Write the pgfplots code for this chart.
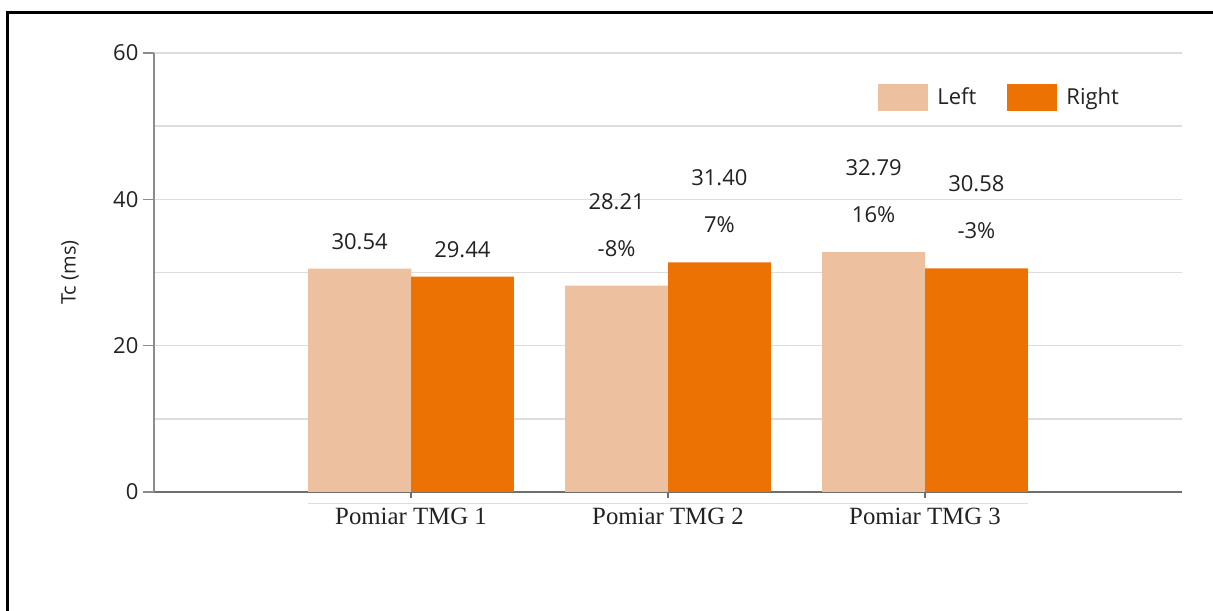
\documentclass[border=0pt]{standalone}
\usepackage{fontspec}
\setmainfont{Open Sans}
\newfontfamily\tmgfont{Liberation Serif}
\usepackage{pgfplots}
\usepackage{pgfplotstable}
\pgfplotsset{compat=1.18}

\definecolor{cLeft}{HTML}{EDC19F}
\definecolor{cRight}{HTML}{EC7204}
\definecolor{txt}{HTML}{222222}
\definecolor{gridc}{HTML}{DDDDDD}
\definecolor{yaxc}{HTML}{8C8C8C}
\definecolor{xaxc}{HTML}{6E6E6E}

% Tc (ms) per measurement, label offsets in pt
\pgfplotstableread{
x left  right voff lpct rpct
1 30.54 29.44 13.4 {}   {}
2 28.21 31.40 42.2 -8\% 7\%
3 32.79 30.58 42.2 16\% -3\%
}\tcdata

\begin{document}
\begin{tikzpicture}
\path[use as bounding box] (0,0) rectangle (606.5pt,305pt);
\draw[line width=1.35pt] (3.75pt,-5pt) -- (3.75pt,298.75pt) -- (615pt,298.75pt);
\begin{axis}[
    at={(77pt,59pt)}, anchor=south west,
    scale only axis, width=514pt, height=219.5pt,
    xmin=0, xmax=4, ymin=0, ymax=60,
    clip=false,
    axis x line*=bottom, axis y line*=left,
    x axis line style={draw=xaxc, line width=0.8pt},
    y axis line style={draw=yaxc, line width=0.8pt},
    tick align=outside,
    xtick={1,2,3},
    xticklabels={Pomiar TMG 1, Pomiar TMG 2, Pomiar TMG 3},
    xtick style={draw=xaxc, line width=0.6pt, /pgfplots/major tick length=3pt},
    xticklabel style={font=\tmgfont\fontsize{12.4}{14}\selectfont, text=txt},
    ytick={0,20,40,60},
    minor ytick={10,30,50},
    ytick style={draw=yaxc, line width=0.8pt, /pgfplots/major tick length=5.5pt, /pgfplots/minor tick length=0pt},
    yticklabel style={font=\fontsize{11}{13}\selectfont, text=txt},
    /pgf/number format/assume math mode=true,
    ymajorgrids, yminorgrids,
    major grid style={draw=gridc, line width=0.8pt},
    minor grid style={draw=gridc, line width=0.8pt},
    ylabel={Tc (ms)},
    every axis y label/.style={at={(axis description cs:0,0.5)}, xshift=-42pt,
        rotate=90, anchor=center, font=\fontsize{10}{12}\selectfont, text=txt},
    legend style={draw=none, fill=none, inner sep=0pt,
        at={(0.7043,0.9317)}, anchor=north west,
        font=\fontsize{11}{13}\selectfont, text=txt,
        /tikz/every odd column/.append style={column sep=2.5pt},
        /tikz/every even column/.append style={column sep=13.5pt}},
    legend columns=2,
    legend cell align=left,
]
\addplot[ybar, bar width=0.4, bar shift=-0.2, fill=cLeft, draw=none,
    legend image code/.code={\fill[cLeft] (0pt,-6.75pt) rectangle (25pt,6.75pt);},
    point meta=explicit symbolic,
    visualization depends on={\thisrow{voff} \as \voff},
    nodes near coords,
    every node near coord/.append style={anchor=center, xshift=-25.7pt, yshift=\voff pt,
        text=txt, font=\fontsize{11}{13}\selectfont}]
    table[x=x, y=left, meta=left]{\tcdata};
\addlegendentry{Left}
\addplot[ybar, bar width=0.4, bar shift=0.2, fill=cRight, draw=none,
    legend image code/.code={\fill[cRight] (0pt,-6.75pt) rectangle (25pt,6.75pt);},
    point meta=explicit symbolic,
    visualization depends on={\thisrow{voff} \as \voff},
    nodes near coords,
    every node near coord/.append style={anchor=center, xshift=25.7pt, yshift=\voff pt,
        text=txt, font=\fontsize{11}{13}\selectfont}]
    table[x=x, y=right, meta=right]{\tcdata};
\addlegendentry{Right}
% percentage change labels
\addplot[ybar, bar width=0.4, bar shift=-0.2, draw=none, fill=none, forget plot,
    point meta=explicit symbolic,
    nodes near coords,
    every node near coord/.append style={anchor=center, xshift=-25.7pt, yshift=18.7pt,
        text=txt, font=\fontsize{11}{13}\selectfont}]
    table[x=x, y=left, meta=lpct]{\tcdata};
\addplot[ybar, bar width=0.4, bar shift=0.2, draw=none, fill=none, forget plot,
    point meta=explicit symbolic,
    nodes near coords,
    every node near coord/.append style={anchor=center, xshift=25.7pt, yshift=18.7pt,
        text=txt, font=\fontsize{11}{13}\selectfont}]
    table[x=x, y=right, meta=rpct]{\tcdata};
\draw[gridc, line width=0.8pt] ([yshift=-5.75pt]axis cs:0.6,0) -- ([yshift=-5.75pt]axis cs:3.4,0);
\end{axis}
\end{tikzpicture}
\end{document}
